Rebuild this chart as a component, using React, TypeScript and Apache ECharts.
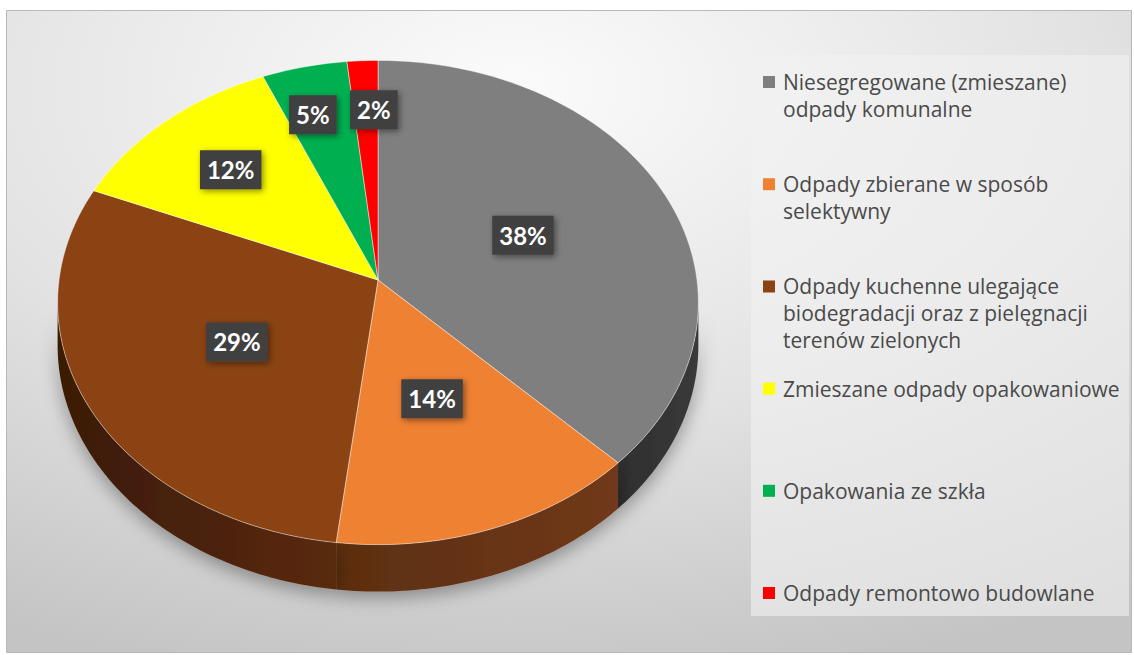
import React, { useEffect, useRef } from "react";
import * as echarts from "echarts";

// ---------- data ----------
const categories = [
  "Niesegregowane (zmieszane) odpady komunalne",
  "Odpady zbierane w sposób selektywny",
  "Odpady kuchenne ulegające biodegradacji oraz z pielęgnacji terenów zielonych",
  "Zmieszane odpady opakowaniowe",
  "Opakowania ze szkła",
  "Odpady remontowo budowlane",
];
const legendLines = [
  ["Niesegregowane (zmieszane)", "odpady komunalne"],
  ["Odpady zbierane w sposób", "selektywny"],
  ["Odpady kuchenne ulegające", "biodegradacji oraz z pielęgnacji", "terenów zielonych"],
  ["Zmieszane odpady opakowaniowe"],
  ["Opakowania ze szkła"],
  ["Odpady remontowo budowlane"],
];
const shares = [37.6, 14.3, 29.4, 12.3, 4.7, 1.7];

// ---------- styles ----------
const topColors = ["#7f7f7f", "#ef8133", "#8b4313", "#ffff00", "#00b050", "#ff0000"];
const wallColors = [
  ["#3a3a3a", "#2e2e2e"],
  ["#70391a", "#5c2e10"],
  ["#5a2a0b", "#3a1a06"],
  ["#7a7a00", "#666600"],
  ["#006030", "#004a24"],
  ["#900000", "#700000"],
];

const total = shares.reduce((s, v) => s + v, 0);
const cumStart: number[] = [];
shares.reduce((acc, v, i) => {
  cumStart[i] = (acc / total) * 360;
  return acc + v;
}, 0);

// geometry of the tilted disc (perspective)
const CX = 378, CY = 280, RX = 319, RY = 240, PERSP = 0.093, DEPTH = 42.6;
const TS = (Math.acos(-PERSP) * 180) / Math.PI;

function proj(deg: number, r: number, dz: number): number[] {
  const t = (deg * Math.PI) / 180;
  const d = 1 + PERSP * r * Math.cos(t);
  return [CX + (RX * r * Math.sin(t)) / d, CY - (RY * r * Math.cos(t)) / d + dz / d];
}

// label anchors with simple collision avoidance between neighbours
const BOX_W2 = 48, BOX_H = 39, LABEL_GAP = 13;
function labelAnchors(vals: number[]): number[][] {
  const tot = vals.reduce((s, v) => s + v, 0);
  let acc = 0;
  const out = vals.map((v) => {
    const a = (acc / tot) * 360;
    acc += v;
    const b = (acc / tot) * 360;
    const pct = Math.round((v / tot) * 100);
    const r = pct >= 14 ? 0.5 : pct >= 10 ? 0.68 : 0.76;
    return proj((a + b) / 2, r, 0);
  });
  for (let i = 0; i + 1 < out.length; i++) {
    const p = out[i], q = out[i + 1];
    const dx = q[0] - p[0];
    if (Math.abs(q[1] - p[1]) < BOX_H && Math.abs(dx) < BOX_W2 + LABEL_GAP) {
      const need = (BOX_W2 + LABEL_GAP - Math.abs(dx)) / 2;
      const s = dx >= 0 ? 1 : -1;
      p[0] -= s * need;
      q[0] += s * need;
    }
  }
  return out;
}

const LH = 27;
const FONT = "'Open Sans', 'Noto Sans', sans-serif";

export default function App() {
  const ref = useRef<HTMLDivElement>(null);
  useEffect(() => {
    if (!ref.current) return;
    const chart = echarts.init(ref.current, null, { renderer: "svg" });
    const anchors = labelAnchors(shares);

    const wallSeries: any = {
      type: "custom",
      name: "walls",
      coordinateSystem: "none",
      silent: true,
      z: 1,
      data: shares,
      renderItem: (params: any, api: any) => {
        const i = params.dataIndex;
        const v = api.value(0);
        const a = cumStart[i];
        const b = a + (v / total) * 360;
        const lo = Math.max(a, TS);
        const hi = Math.min(b, 360 - TS);
        if (hi <= lo) return { type: "group", children: [] };
        const top: number[][] = [];
        const bot: number[][] = [];
        const N = Math.max(4, Math.ceil(hi - lo));
        for (let k = 0; k <= N; k++) {
          const d = lo + ((hi - lo) * k) / N;
          top.push(proj(d, 1, 0));
          bot.push(proj(d, 1, DEPTH));
        }
        return {
          type: "polygon",
          shape: { points: top.concat(bot.reverse()) },
          style: {
            fill: {
              type: "linear", x: 0, y: 0, x2: 1, y2: 0,
              colorStops: [
                { offset: 0, color: wallColors[i][1] },
                { offset: 1, color: wallColors[i][0] },
              ],
            },
            shadowBlur: 18,
            shadowColor: "rgba(0,0,0,0.35)",
            shadowOffsetY: 6,
          },
        };
      },
    };

    const topSeries = categories.map((name, i) => ({
      type: "custom",
      name,
      coordinateSystem: "none",
      z: 2,
      silent: true,
      itemStyle: { color: topColors[i] },
      data: [shares[i]],
      renderItem: (params: any, api: any) => {
        const v = api.value(0);
        const a = cumStart[i];
        const b = a + (v / total) * 360;
        const pts: number[][] = [proj(0, 0, 0)];
        const N = Math.max(3, Math.ceil(b - a));
        for (let k = 0; k <= N; k++) pts.push(proj(a + ((b - a) * k) / N, 1, 0));
        const pct = Math.round((v / total) * 100);
        const lp = anchors[i];
        return {
          type: "group",
          children: [
            {
              type: "polygon",
              shape: { points: pts },
              style: { fill: api.visual("color"), stroke: "rgba(255,255,255,0.45)", lineWidth: 1, lineJoin: "round" },
            },
            {
              type: "text",
              x: lp[0],
              y: lp[1],
              z2: 10,
              style: {
                text: pct + "%",
                fill: "#ffffff",
                font: "bold 24px Lato, 'Open Sans', sans-serif",
                align: "center",
                verticalAlign: "middle",
                backgroundColor: "#404040",
                padding: [8, 7, 7, 7],
                shadowBlur: 6,
                shadowColor: "rgba(0,0,0,0.45)",
                shadowOffsetX: 2,
                shadowOffsetY: 2,
              },
            },
          ],
        };
      },
    }));

    const legends = categories.map((name, i) => {
      const n = legendLines[i].length;
      const H = n * LH;
      const a = LH / 2 - 6;
      return {
        data: [{ name, icon: `path://M0,${a}L12,${a}L12,${a + 12}L0,${a + 12}ZM0,0M15,${H}` }],
        orient: "vertical",
        left: 763,
        top: 82 + i * 102.2 - LH / 2,
        padding: 0,
        itemWidth: 15,
        itemHeight: H,
        itemGap: 0,
        selectedMode: false,
        itemStyle: { borderWidth: 0 },
        formatter: (nm: string) => legendLines[categories.indexOf(nm)].join("\n"),
        textStyle: { fontFamily: FONT, fontSize: 21, color: "#4a4a4a", lineHeight: LH },
      };
    });

    chart.setOption({
      animation: false,
      backgroundColor: "#ffffff",
      graphic: [
        {
          type: "rect",
          z: -10,
          silent: true,
          shape: { x: 6.5, y: 10.5, width: 1125, height: 642 },
          style: {
            fill: {
              type: "radial", x: 0.45, y: 0.12, r: 0.95,
              colorStops: [
                { offset: 0, color: "#fbfbfb" },
                { offset: 0.55, color: "#e2e2e2" },
                { offset: 1, color: "#c4c4c4" },
              ],
            },
            stroke: "#b8b8b8",
            lineWidth: 1,
          },
        },
        {
          type: "rect",
          z: -9,
          silent: true,
          shape: { x: 751, y: 55, width: 378, height: 561 },
          style: { fill: "rgba(242,242,242,0.6)" },
        },
      ],
      legend: legends,
      series: [wallSeries, ...topSeries],
    });
    return () => chart.dispose();
  }, []);
  return (
    <div
      ref={ref}
      style={{ position: "fixed", left: 0, top: 0, width: 1134, height: 655 }}
    />
  );
}
